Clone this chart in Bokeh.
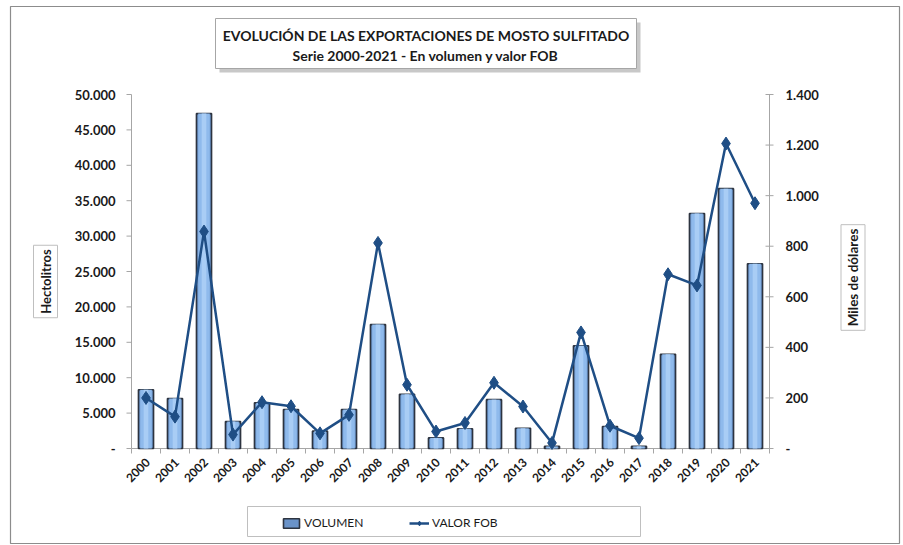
import math
from bokeh.plotting import figure
from bokeh.models import Range1d, Label, Legend, LegendItem
from bokeh.core.properties import value
from bokeh.embed import file_html
from bokeh.resources import INLINE

# ---------------- data ----------------
years = [str(y) for y in range(2000, 2022)]
volumen = [8300, 7050, 47300, 3800, 6450, 5500, 2450, 5500, 17500, 7650, 1500,
           2800, 6900, 2850, 300, 14500, 3100, 300, 13300, 33200, 36700, 26100]
valor_fob = [200, 126, 858, 55, 183, 167, 60, 133, 813, 252, 67,
             101, 260, 166, 22, 459, 90, 41, 689, 645, 1206, 970]
left_ticks = list(range(0, 50001, 5000))
right_ticks = list(range(0, 1401, 200))
title_lines = ["EVOLUCIÓN DE LAS EXPORTACIONES DE MOSTO SULFITADO",
               "Serie 2000-2021 - En volumen y valor FOB"]
left_title = "Hectolitros"
right_title = "Miles de dólares"
legend_labels = ["VOLUMEN", "VALOR FOB"]

def fmt(v):
    return "-" if v == 0 else f"{v:,}".replace(",", ".")

# ---------------- layout: page pixels -> data ----------------
W, H = 903, 545
FL, FR, FT, FB = 131, 769, 94, 448          # plot area in page pixels
LMAX, RMAX = 50000, 1400
N = len(years)

def xd(px):
    return -0.5 + (px - FL) * N / (FR - FL)

def yd(py):
    return (FB - py) * LMAX / (FB - FT)

def yr(py):
    return (FB - py) * RMAX / (FB - FT)

PX = N / (FR - FL)            # one pixel in x data units

FONT = "Lato"
TXT = "#1a1a1a"
AX = "#a6a6a6"
LINE_C = "#1f4e85"

p = figure(width=W, height=H, x_range=Range1d(xd(0), xd(W)),
           y_range=Range1d(yd(H), yd(0)), output_backend="svg",
           toolbar_location=None, title=None, x_axis_location=None,
           y_axis_location=None, min_border=0)
p.min_border_left = p.min_border_right = p.min_border_top = p.min_border_bottom = 0
p.xgrid.visible = False
p.ygrid.visible = False
p.outline_line_color = None
p.background_fill_color = "white"
p.border_fill_color = "white"
p.extra_y_ranges = {"fob": Range1d(yr(H), yr(0))}

idx = list(range(N))

# ---------------- outer border ----------------
p.quad(left=[xd(10)], right=[xd(899)], top=[yd(6)], bottom=[yd(543)],
       fill_color=None, line_color="#8c8c8c", line_width=1.2)

# ---------------- axes (lines, ticks, labels) ----------------
# left axis
p.segment(x0=[-0.5], x1=[-0.5], y0=[0], y1=[LMAX], line_color=AX, line_width=1)
p.segment(x0=[-0.5 - 5 * PX] * len(left_ticks), x1=[-0.5] * len(left_ticks),
          y0=left_ticks, y1=left_ticks, line_color=AX, line_width=1)
p.text(x=[xd(115)] * len(left_ticks), y=left_ticks, text=[fmt(t) for t in left_ticks],
       text_align="right", text_baseline="middle", text_font=value(FONT),
       text_font_style="bold", text_font_size="13px", text_color=TXT)

# right axis
p.segment(x0=[N - 0.5], x1=[N - 0.5], y0=[0], y1=[RMAX], y_range_name="fob",
          line_color=AX, line_width=1)
p.segment(x0=[N - 0.5 - 4 * PX] * len(right_ticks), x1=[N - 0.5 + 4 * PX] * len(right_ticks),
          y0=right_ticks, y1=right_ticks, y_range_name="fob", line_color=AX, line_width=1)
p.text(x=[xd(785)] * len(right_ticks), y=right_ticks, y_range_name="fob",
       text=[fmt(t) for t in right_ticks], text_align="left", text_baseline="middle",
       text_font=value(FONT), text_font_style="bold", text_font_size="13px",
       text_color=TXT)

# x axis
p.segment(x0=[-0.5], x1=[N - 0.5], y0=[0], y1=[0], line_color=AX, line_width=1)
bounds = [i - 0.5 for i in range(N + 1)]
p.segment(x0=bounds, x1=bounds, y0=[0] * len(bounds), y1=[yd(FB + 5)] * len(bounds),
          line_color=AX, line_width=1)
p.text(x=[i + 2 * PX for i in idx], y=[yd(FB + 12)] * N, text=years, angle=math.pi / 4,
       text_align="right", text_baseline="middle", text_font=value(FONT),
       text_font_style="bold", text_font_size="12px", text_color=TXT)

# ---------------- bars ----------------
bars = p.vbar(x=idx, top=volumen, width=0.52, fill_color="#6a93c9",
              line_color="#2d3440", line_width=1.6)
p.vbar(x=idx, top=volumen, width=0.40, fill_color="#8fbaec", line_color=None)
p.vbar(x=idx, top=volumen, width=0.16, fill_color="#a9cdf5", line_color=None)

# ---------------- line ----------------
ln = p.line(x=idx, y=valor_fob, y_range_name="fob", line_color=LINE_C, line_width=2.5)
mk = p.scatter(x=idx, y=valor_fob, y_range_name="fob", marker="diamond", size=13,
               fill_color=LINE_C, line_color=LINE_C)

# ---------------- title box ----------------
p.quad(left=[xd(219)], right=[xd(640)], top=[yd(22)], bottom=[yd(72)],
       fill_color="#9a9a9a", fill_alpha=0.55, line_color=None)
p.quad(left=[xd(215)], right=[xd(636)], top=[yd(18)], bottom=[yd(68)],
       fill_color="white", line_color="#a6a6a6", line_width=1)
p.text(x=[xd(425.5)] * 2, y=[yd(34.5), yd(55)], text=title_lines, text_align="center",
       text_baseline="middle", text_font=value(FONT), text_font_style="bold",
       text_font_size="14px", text_color=TXT)

# ---------------- axis titles ----------------
p.add_layout(Label(x=xd(45), y=yd(281), text=left_title, angle=math.pi / 2,
                   text_align="center", text_baseline="middle", text_font=FONT,
                   text_font_style="bold", text_font_size="13px", text_color=TXT,
                   background_fill_color="white", border_line_color="#bfbfbf",
                   padding=4))
p.add_layout(Label(x=xd(852.5), y=yd(277), text=right_title, angle=math.pi / 2,
                   text_align="center", text_baseline="middle", text_font=FONT,
                   text_font_style="bold", text_font_size="13.5px", text_color=TXT,
                   background_fill_color="white", border_line_color="#bfbfbf",
                   padding=4))

# ---------------- legend ----------------
p.quad(left=[xd(247)], right=[xd(640)], top=[yd(506)], bottom=[yd(536)],
       fill_color="white", line_color="#bfbfbf", line_width=1)
legend = Legend(items=[LegendItem(label=legend_labels[0], renderers=[bars]),
                       LegendItem(label=legend_labels[1], renderers=[ln, mk])],
                orientation="horizontal", location=(276, H - 506 - 30 + 1), margin=0,
                padding=5, spacing=25, glyph_width=20, glyph_height=12,
                label_standoff=3, label_width=80, label_text_font=FONT,
                label_text_font_size="12px", label_text_color=TXT,
                border_line_alpha=0, background_fill_alpha=0)
p.add_layout(legend)

open("out.html", "w").write(file_html(p, INLINE))
